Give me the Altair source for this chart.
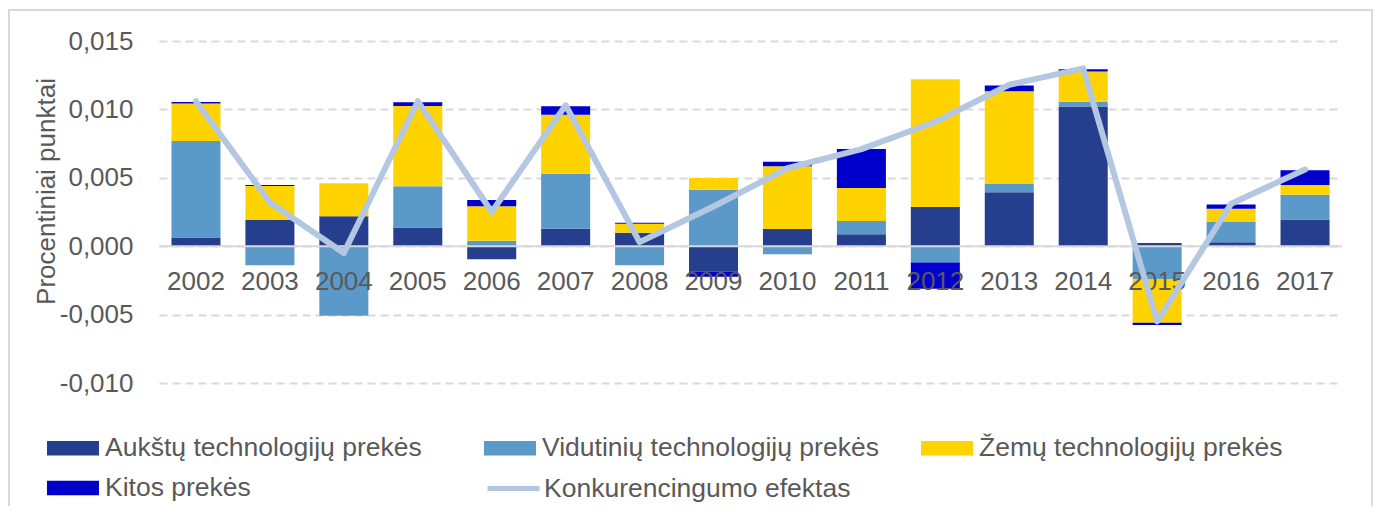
import altair as alt
import pandas as pd

years = [str(y) for y in range(2002, 2018)]
series_names = [
    "Aukštų technologijų prekės",
    "Vidutinių technologijų prekės",
    "Žemų technologijų prekės",
    "Kitos prekės",
]
line_name = "Konkurencingumo efektas"

high = [0.00063, 0.00192, 0.00219, 0.00136, -0.00095, 0.00128, 0.00099, -0.00185,
        0.00126, 0.00088, 0.00287, 0.00394, 0.01022, 0.00024, 0.00029, 0.00195]
medium = [0.00706, -0.00139, -0.00509, 0.00302, 0.00039, 0.00401, -0.00139, 0.00413,
          -0.00058, 0.00097, -0.00119, 0.00061, 0.00034, -0.00243, 0.00151, 0.00182]
low = [0.00275, 0.00248, 0.00241, 0.00586, 0.00253, 0.00431, 0.00066, 0.00085,
       0.00458, 0.00241, 0.00934, 0.00677, 0.00221, -0.00316, 0.00093, 0.00071]
other = [0.0001, 0.00007, 0.0, 0.00029, 0.00046, 0.00063, 0.00007, -0.00039,
         0.00034, 0.00285, -0.00192, 0.00042, 0.00017, -0.00017, 0.00032, 0.00107]
effect = [0.0106, 0.0032, -0.0005, 0.0106, 0.0025, 0.0103, 0.0003, 0.0029,
          0.0057, 0.0071, 0.0091, 0.0118, 0.0130, -0.0055, 0.0031, 0.0056]

y_ticks = [-0.01, -0.005, 0.0, 0.005, 0.01, 0.015]

colors = ["#253F8E", "#5B9AC8", "#FFD300", "#0000CD"]
line_color = "#B4C7E2"

rows = []
for i, yr in enumerate(years):
    for k, (name, vals) in enumerate(zip(series_names, [high, medium, low, other])):
        rows.append({"year": yr, "series": name, "value": vals[i], "order": k})
bars_df = pd.DataFrame(rows)
line_df = pd.DataFrame({"year": years, "effect": effect, "series": [line_name] * len(years)})
labels_df = pd.DataFrame({"year": years, "zero": [0.0] * len(years)})

FONT = "Liberation Sans"
GRAY = "#595959"
YTITLE = "Procentiniai punktai"
W, H = 1183, 342
LEG_FS = 26.5

x_enc = alt.X("year:N", scale=alt.Scale(paddingInner=0.337, paddingOuter=0.1685), axis=None)
y_scale = alt.Scale(domain=[-0.01, 0.015], nice=False, zero=False)

frame = alt.Chart(pd.DataFrame({"a": [0]})).mark_rect(
    fillOpacity=0, stroke="#D9D9D9", strokeWidth=2
).encode(
    x=alt.value(-150), x2=alt.value(W + 30), y=alt.value(-31), y2=alt.value(H + 140)
)

bars = alt.Chart(bars_df).mark_bar().encode(
    x=x_enc,
    y=alt.Y(
        "value:Q",
        stack="zero",
        scale=y_scale,
        title=YTITLE,
        axis=alt.Axis(
            values=y_ticks,
            labelExpr="(datum.value < 0 ? '-' : '') + replace(format(abs(datum.value), '.3f'), '.', ',')",
            grid=True,
            gridDash=[8, 5],
            gridColor="#D9D9D9",
            gridWidth=2,
            domain=False,
            ticks=False,
            labelFont=FONT,
            labelFontSize=26,
            labelColor=GRAY,
            labelPadding=26,
            titleFont=FONT,
            titleFontSize=26,
            titleColor=GRAY,
            titleFontWeight="normal",
            titleAngle=270,
            titleX=-113,
            titleY=150,
            titleAlign="center",
            titleBaseline="middle",
        ),
    ),
    color=alt.Color(
        "series:N",
        scale=alt.Scale(domain=series_names, range=colors),
        legend=alt.Legend(
            title=None,
            orient="none",
            direction="horizontal",
            legendX=-112,
            legendY=381,
            columns=3,
            gridAlign="all",
            columnPadding=42,
            rowPadding=0,
            symbolType="M-1,-0.28H1V0.28H-1Z",
            symbolSize=2704,
            symbolStrokeWidth=0,
            labelFont=FONT,
            labelFontSize=LEG_FS,
            labelColor=GRAY,
            labelOffset=6,
            labelLimit=600,
            padding=0,
        ),
    ),
    order=alt.Order("order:Q"),
)

zero_rule = alt.Chart(pd.DataFrame({"zero": [0.0]})).mark_rule(
    color="#D9D9D9", strokeWidth=2
).encode(y=alt.Y("zero:Q", scale=y_scale, title=YTITLE))

labels = alt.Chart(labels_df).mark_text(
    dy=36, baseline="middle", font=FONT, fontSize=26, color=GRAY
).encode(
    x=x_enc,
    y=alt.Y("zero:Q", scale=y_scale, title=YTITLE),
    text="year:N",
)

line = alt.Chart(line_df).mark_line(
    strokeWidth=6, strokeCap="round", strokeJoin="round"
).encode(
    x=x_enc,
    y=alt.Y("effect:Q", scale=y_scale, title=YTITLE),
    stroke=alt.Stroke(
        "series:N",
        scale=alt.Scale(domain=[line_name], range=[line_color]),
        legend=alt.Legend(
            title=None,
            orient="none",
            direction="horizontal",
            legendX=326,
            legendY=419,
            symbolType="stroke",
            symbolSize=2704,
            symbolStrokeWidth=5,
            labelFont=FONT,
            labelFontSize=LEG_FS,
            labelColor=GRAY,
            labelOffset=2,
            labelLimit=600,
            padding=0,
        ),
    ),
)

chart = alt.layer(frame, bars, zero_rule, labels, line).properties(
    width=W,
    height=H,
    autosize=alt.AutoSizeParams(type="none"),
    padding={"left": 151, "top": 33, "right": 31, "bottom": 123},
).configure_view(stroke="transparent")

chart.save("out.html", embed_options={"renderer": "svg", "actions": False})
